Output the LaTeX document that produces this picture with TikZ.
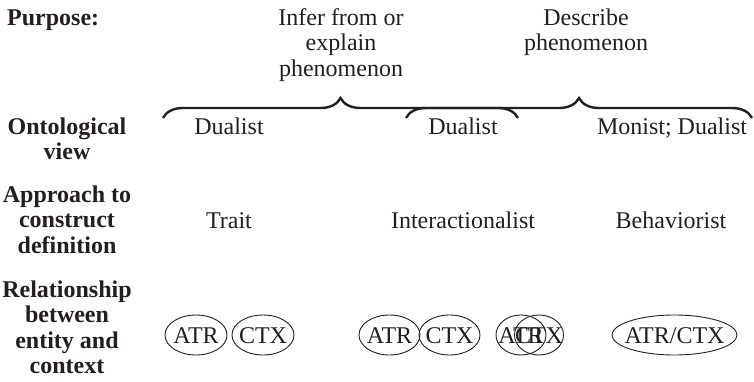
\documentclass[tikz,border=0pt]{standalone}
\usepackage{fontspec}
\setmainfont{Liberation Serif}
\usetikzlibrary{decorations.pathreplacing,shapes.geometric}
\definecolor{ink}{HTML}{231F20}
% strut giving every line the same height and depth
\newcommand\ls{\vrule height 18pt depth 7.5pt width 0pt}
\begin{document}
\begin{tikzpicture}[x=1pt,y=-1pt,
  every node/.style={inner sep=0pt, text=ink, font=\fontsize{24}{25.5}\selectfont},
  txt/.style={anchor=north, align=center},
  rowlabel/.style={txt, font=\fontsize{24}{25.5}\selectfont\bfseries},
  bracepath/.style={draw=ink, line width=2.4pt, decorate,
    decoration={brace, amplitude=20pt}},
  ell/.style={draw=ink, ellipse, line width=0.9pt, minimum height=40pt,
    text height=16pt, text depth=0pt}
]
\useasboundingbox (0,0) rectangle (754,382);

% purpose row
\node[rowlabel, anchor=north west, align=left] (purpose) at (7,7) {\ls Purpose:};
\node[txt] (infer) at (341,7) {\ls Infer from or\\\ls explain\\\ls phenomenon};
\node[txt] (describe) at (586,7) {\ls Describe\\\ls phenomenon};

% the two overlapping braces
\coordinate (b1s) at (163,118);
\coordinate (b1e) at (518,118);
\coordinate (b2s) at (406,118);
\coordinate (b2e) at (752,118);
\draw[bracepath] (b1s) -- (b1e);
\draw[bracepath] (b2s) -- (b2e);

% ontological view row
\node[rowlabel] (onto) at (67,116) {\ls Ontological\\\ls view};
\node[txt] (dual1) at (229,116) {\ls Dualist};
\node[txt] (dual2) at (463,116) {\ls Dualist};
\node[txt] (mondual) at (672,116) {\ls Monist; Dualist};

% approach row
\node[rowlabel] (approach) at (67,184) {\ls Approach to\\\ls construct\\\ls definition};
\node[txt] (trait) at (229,210) {\ls Trait};
\node[txt] (inter) at (463,210) {\ls Interactionalist};
\node[txt] (behav) at (671,210) {\ls Behaviorist};

% relationship row
\node[rowlabel] (relation) at (67,279) {\ls Relationship\\\ls between\\\ls entity and\\\ls context};
\node[ell, minimum width=62pt] (atrA) at (196,335) {\makebox[0pt]{ATR}};
\node[ell, minimum width=62pt] (ctxA) at (263,335) {\makebox[0pt]{CTX}};
\node[ell, minimum width=61pt] (atrB) at (389.5,335) {\makebox[0pt]{ATR}};
\node[ell, minimum width=61pt] (ctxB) at (449.5,335) {\makebox[0pt]{CTX}};
\node[ell, minimum width=50pt] (atrC) at (521,335) {\makebox[0pt]{ATR}};
\node[ell, minimum width=49pt] (ctxC) at (539,335) {\makebox[0pt]{CTX}};
\node[ell, minimum width=125pt] (atrctx) at (674.5,335) {\makebox[0pt]{ATR/CTX}};
\end{tikzpicture}
\end{document}
